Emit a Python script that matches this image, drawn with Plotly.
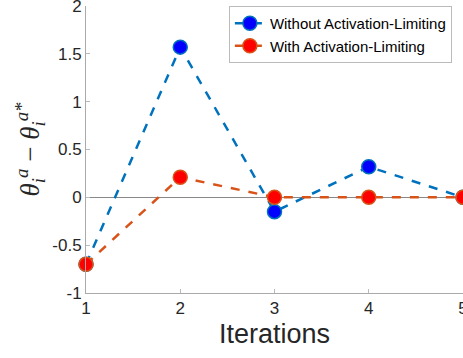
import plotly.graph_objects as go

iterations = [1, 2, 3, 4, 5]
without_limiting = [-0.70, 1.57, -0.15, 0.32, 0.0]
with_limiting = [-0.70, 0.21, 0.0, 0.0, 0.0]
y_ticks = [-1, -0.5, 0, 0.5, 1, 1.5, 2]
y_tick_labels = ["-1", "-0.5", "0", "0.5", "1", "1.5", "2"]

fig = go.Figure()
fig.add_trace(go.Scatter(
    x=iterations, y=without_limiting, mode="lines+markers",
    name="Without Activation-Limiting",
    line=dict(color="#0072BD", width=2.5, dash="dash"),
    marker=dict(color="#0000FF", size=14, line=dict(color="#0072BD", width=1.5)),
    cliponaxis=False,
))
fig.add_trace(go.Scatter(
    x=iterations, y=with_limiting, mode="lines+markers",
    name="With Activation-Limiting",
    line=dict(color="#D95319", width=2.5, dash="dash"),
    marker=dict(color="#FF0000", size=14, line=dict(color="#D95319", width=1.5)),
    cliponaxis=False,
))

fig.update_layout(
    width=463, height=358,
    margin=dict(l=86, r=0, t=6, b=65, autoexpand=False),
    paper_bgcolor="white", plot_bgcolor="white",
    font=dict(family="Liberation Sans, Arial", color="#262626"),
    showlegend=True,
    legend=dict(
        x=0.379, y=1.0, xanchor="left", yanchor="top",
        bgcolor="white", bordercolor="#BBBBBB", borderwidth=1,
        font=dict(size=15, color="#000000"),
        itemwidth=30, tracegroupgap=0,
    ),
    xaxis=dict(
        range=[1, 5], tickvals=iterations, ticktext=[str(i) for i in iterations],
        ticks="inside", ticklen=4, tickcolor="#BBBBBB",
        showline=True, linecolor="#AAAAAA", linewidth=1,
        showgrid=False, zeroline=False, automargin=False,
        ticklabeloverflow="allow",
        tickfont=dict(size=17),
        title=dict(text="Iterations", font=dict(size=27), standoff=6),
    ),
    yaxis=dict(
        range=[-1, 2], tickvals=y_ticks, ticktext=y_tick_labels,
        ticks="inside", ticklen=4, tickcolor="#BBBBBB",
        showline=True, linecolor="#AAAAAA", linewidth=1,
        showgrid=False, zeroline=True, zerolinecolor="#888888", zerolinewidth=1,
        automargin=False, ticklabeloverflow="allow",
        tickfont=dict(size=17),
        title=dict(text="<i>θ<sub>i</sub><sup>a</sup></i> − <i>θ<sub>i</sub><sup>a*</sup></i>",
                   font=dict(size=27, family="Liberation Serif, serif"), standoff=4),
    ),
)

fig.write_html(
    "out.html",
    config={"displayModeBar": False},
    post_script="document.body.style.margin='0';document.body.style.overflow='hidden';",
)
